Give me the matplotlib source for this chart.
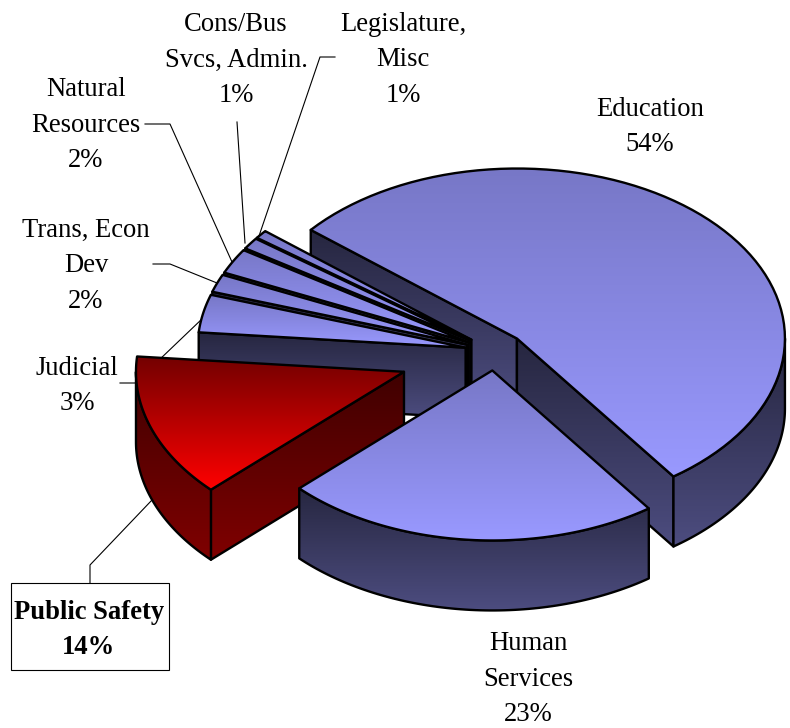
import numpy as np
import matplotlib
matplotlib.use("Agg")
from matplotlib import pyplot as plt
from matplotlib.patches import Polygon, Rectangle

plt.rcParams['font.family'] = ['Liberation Serif', 'DejaVu Serif']

# clockwise from Education, shares as they look in the picture (labels are rounded)
categories = ["Education", "Human\nServices", "Public Safety", "Judicial", "Trans, Econ\nDev",
              "Natural\nResources", "Cons/Bus\nSvcs, Admin.", "Legislature,\nMisc"]
shares = [54.1, 22.75, 13.65, 3.6, 1.7, 2.4, 1.1, 0.8]
percent_labels = ["54%", "23%", "14%", "3%", "2%", "2%", "1%", "1%"]
explode = [0.112, 0.112, 0.36, 0.112, 0.112, 0.112, 0.112, 0.112]

label_pos = [(650, 127), (528, 679), (89, 630), (77, 386), (86, 266), (86, 125), (236, 60), (403, 60)]

# pie geometry in pixels
CX, CY = 495, 351.5
RX, RY = 268, 170
DEPTH = 70
START = -50.3
LW = 1.7

fig = plt.figure(figsize=(7.9, 7.28), dpi=100)
ax = fig.add_axes([0, 0, 1, 1])
ax.axis('off')

blue = np.array([153, 153, 255]) / 255.0
red = np.array([255, 0, 0]) / 255.0


def arc(x0, y0, a, b, n=80):
    t = np.radians(np.linspace(a, b, n))
    return np.column_stack([x0 + RX * np.sin(t), y0 - RY * np.cos(t)])


# draw one polygon filled with a vertical gradient, outlined in black
def face(pts, c_top, c_bot, z):
    pts = np.asarray(pts)
    x0, x1 = pts[:, 0].min(), pts[:, 0].max()
    y0, y1 = pts[:, 1].min(), pts[:, 1].max()
    grad = np.linspace(0, 1, 128)[:, None, None] * (c_bot - c_top)[None, None, :] + c_top
    im = ax.imshow(np.clip(grad, 0, 1), extent=(x0, x1, y1, y0), aspect='auto', zorder=z, interpolation='bilinear')
    patch = Polygon(pts, closed=True, transform=ax.transData, fc='none', ec='none')
    ax.add_patch(patch)
    im.set_clip_path(patch)
    ax.add_patch(Polygon(pts, closed=True, fc='none', ec='black', lw=LW, joinstyle='round', zorder=z + 0.5))


def wall(p, q, base, z):
    pts = [p, q, (q[0], q[1] + DEPTH), (p[0], p[1] + DEPTH)]
    face(pts, base * 0.25, base * 0.5, z)


def slice3d(a, b, ex, base, top_dark, z):
    mid = np.radians((a + b) / 2.0)
    x0 = CX + ex * RX * np.sin(mid)
    y0 = CY - ex * RY * np.cos(mid)
    rim = arc(x0, y0, a, b)
    apex = (x0, y0)
    # radial walls, only those turned towards the viewer
    if np.sin(np.radians(a)) < 0:
        wall(rim[0], apex, base, z)
    if np.sin(np.radians(b)) > 0:
        wall(apex, rim[-1], base, z + 1)
    # outer wall on the front half of the rim
    lo, hi = max(a, 90), min(b, 270)
    if hi > lo:
        front = arc(x0, y0, lo, hi)
        lower = front + [0, DEPTH]
        face(np.vstack([front, lower[::-1]]), base * 0.25, base * 0.5, z + 2)
    face(np.vstack([[apex], rim]), base * top_dark, base, z + 3)


# leader lines sit under the pie
leaders = [
    [(145, 124), (170, 124), (232, 262)],
    [(237, 122), (245, 243)],
    [(335, 57), (320, 57), (259, 236)],
    [(153, 264), (170, 264), (217, 283)],
    [(120, 383), (135, 383), (203, 318)],
    [(90, 583), (90, 565), (152, 500)],
]
for line in leaders:
    xs, ys = zip(*line)
    ax.plot(xs, ys, color='black', lw=0.8, zorder=1)

edges = START + np.cumsum([0] + list(np.array(shares) / sum(shares) * 360.0))
draw_order = [0, 7, 6, 5, 4, 3, 2, 1]
z = 2
for i in draw_order:
    if categories[i] == "Public Safety":
        slice3d(edges[i], edges[i + 1], explode[i], red, 0.45, z)
    else:
        slice3d(edges[i], edges[i + 1], explode[i], blue, 0.78, z)
    z += 5

for name, pct, (x, y) in zip(categories, percent_labels, label_pos):
    if name == "Public Safety":
        ax.add_patch(Rectangle((11, 583), 158, 87, fc='white', ec='black', lw=0.8, zorder=z))
        ax.text(x, y, name + "\n" + pct, ha='center', va='center', fontsize=19.2, fontweight='bold',
                linespacing=1.5, zorder=z + 1)
    else:
        ax.text(x, y, name + "\n" + pct, ha='center', va='center', fontsize=19.2,
                linespacing=1.56, zorder=z + 1)

ax.set_xlim(0, 790)
ax.set_ylim(728, 0)
fig.savefig("out.png", dpi=100)
